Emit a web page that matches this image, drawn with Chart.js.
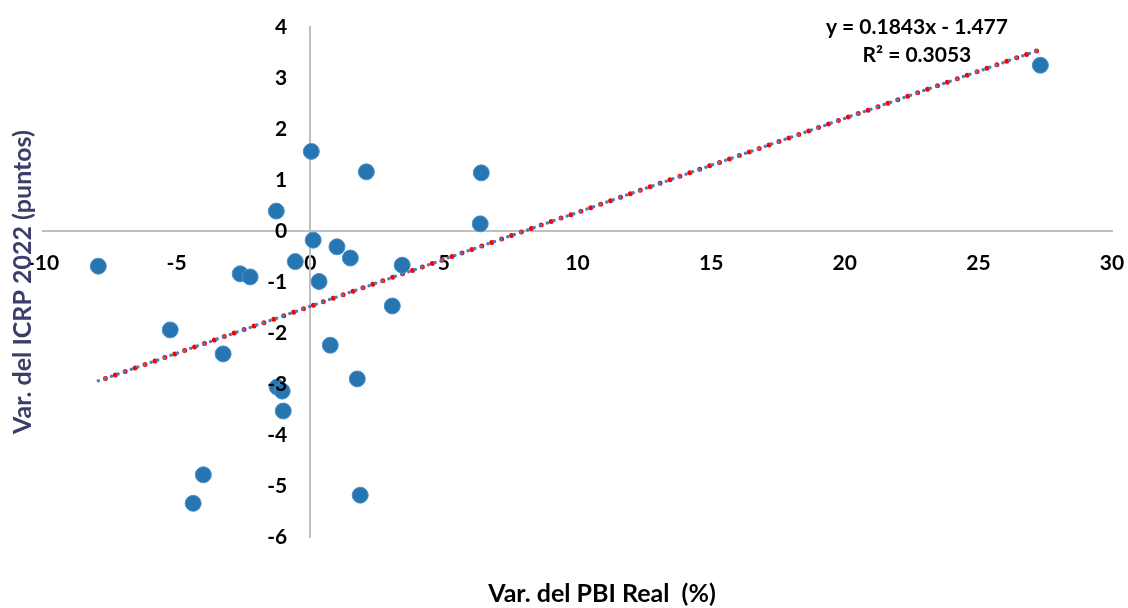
<!DOCTYPE html>
<html>
<head>
<meta charset="utf-8">
<script src="https://cdn.jsdelivr.net/npm/chart.js@4.4.1/dist/chart.umd.min.js"></script>
<style>
  html, body { margin: 0; padding: 0; background: #fff; }
  #wrap { width: 1128px; height: 608px; }
</style>
</head>
<body>
<div id="wrap"><canvas id="chart" width="1128" height="608"></canvas></div>
<script>
  // Var. del PBI Real (%) vs Var. del ICRP 2022 (puntos)
  const pbiReal = [-7.93, 0.04, 2.1, -1.27, 6.4, 6.36, 0.11, 1.0, 1.5, -0.56, 3.44, -2.62, -2.25,
    0.33, 3.07, -5.24, 0.75, -3.26, 1.76, -1.24, -1.05, -1.01, -4.0, -4.38, 1.87, 27.32];
  const icrp = [-0.69, 1.56, 1.16, 0.39, 1.14, 0.14, -0.18, -0.31, -0.53, -0.6, -0.67, -0.84, -0.9,
    -0.99, -1.47, -1.94, -2.24, -2.41, -2.9, -3.06, -3.14, -3.53, -4.78, -5.34, -5.18, 3.25];

  // trend line reported by the source: y = 0.1843x - 1.477, R² = 0.3053
  const trendSlope = 0.1843;
  const trendIntercept = -1.477;
  const trendLabels = ['y = 0.1843x - 1.477', 'R² = 0.3053'];

  const xTicks = [-10, -5, 0, 5, 10, 15, 20, 25, 30];
  const yTicks = [-6, -5, -4, -3, -2, -1, 0, 1, 2, 3, 4];

  const points = pbiReal.map((x, i) => ({ x, y: icrp[i] }));
  const xMin = Math.min(...pbiReal);
  const xMax = Math.max(...pbiReal);
  const trend = [xMin, xMax].map((x) => ({ x, y: trendSlope * x + trendIntercept }));

  const font = '"Lato", "Open Sans", sans-serif';

  // axes sit inside the plot, so drop the label overflow padding they ask for
  const noPad = (s) => {
    s.paddingTop = 0;
    s.paddingBottom = 0;
    s.paddingLeft = 0;
    s.paddingRight = 0;
  };

  const textPlugin = {
    id: 'axisText',
    afterDraw(chart) {
      const { ctx, chartArea, scales } = chart;
      ctx.save();

      // y tick labels: Chart.js ignores padding for an axis placed at x = 0
      ctx.font = `bold 21px ${font}`;
      ctx.fillStyle = '#000';
      ctx.textAlign = 'right';
      ctx.textBaseline = 'middle';
      const axisX = scales.x.getPixelForValue(0);
      scales.y.ticks.forEach((t) => {
        ctx.fillText(String(t.value), axisX - 23, scales.y.getPixelForValue(t.value));
      });

      ctx.textAlign = 'center';

      // y axis title
      ctx.font = `bold 25px ${font}`;
      ctx.fillStyle = '#3d3d6b';
      ctx.save();
      ctx.translate(23, (chartArea.top + chartArea.bottom) / 2);
      ctx.rotate(-Math.PI / 2);
      ctx.fillText('Var. del ICRP 2022 (puntos)', 0, 0);
      ctx.restore();

      // x axis title
      ctx.fillStyle = '#000';
      ctx.fillText('Var. del PBI Real  (%)', 602, 594);

      // trend equation
      ctx.font = `bold 21px ${font}`;
      const ex = scales.x.getPixelForValue(22.7);
      const ey = scales.y.getPixelForValue(4);
      trendLabels.forEach((t, i) => ctx.fillText(t, ex, ey + i * 28));
      ctx.restore();
    },
  };

  new Chart(document.getElementById('chart'), {
    type: 'scatter',
    data: {
      datasets: [
        {
          label: 'Tendencia',
          data: trend,
          showLine: true,
          borderColor: '#4a7ebb',
          borderWidth: 3.5,
          borderDash: [0, 7],
          borderCapStyle: 'round',
          pointRadius: 0,
          order: 1,
        },
        {
          label: 'Tendencia (rojo)',
          data: trend,
          showLine: true,
          borderColor: '#ff0000',
          borderWidth: 5,
          borderDash: [0, 10.5],
          borderDashOffset: 3,
          borderCapStyle: 'round',
          pointRadius: 0,
          order: 2,
        },
        {
          label: 'Países',
          data: points,
          backgroundColor: '#2676b2',
          borderColor: '#4d8fc6',
          borderWidth: 1,
          pointRadius: 8,
          order: 0,
        },
      ],
    },
    options: {
      responsive: false,
      animation: false,
      layout: {
        padding: { left: 43, right: 16, top: 27, bottom: 71 },
      },
      plugins: {
        legend: { display: false },
        tooltip: { enabled: false },
      },
      scales: {
        x: {
          type: 'linear',
          min: -10,
          max: 30,
          position: { y: 0 },
          afterBuildTicks: (s) => { s.ticks = xTicks.map((value) => ({ value })); },
          afterFit: noPad,
          grid: { display: false, drawTicks: false },
          border: { color: '#bfbfbf', width: 2 },
          ticks: {
            padding: 20,
            color: '#000',
            font: { family: font, size: 21, weight: 'bold' },
          },
        },
        y: {
          type: 'linear',
          min: -6,
          max: 4,
          position: { x: 0 },
          afterBuildTicks: (s) => { s.ticks = yTicks.map((value) => ({ value })); },
          afterFit: noPad,
          grid: { display: false, drawTicks: false },
          border: { color: '#bfbfbf', width: 2 },
          ticks: { display: false },
        },
      },
    },
    plugins: [textPlugin],
  });
</script>
</body>
</html>
